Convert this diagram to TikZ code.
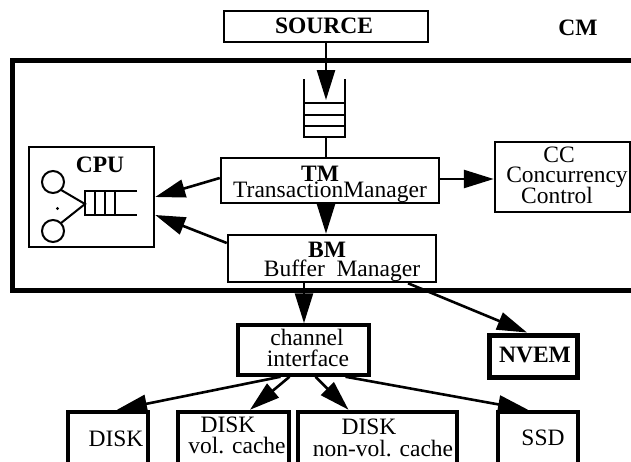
\documentclass[tikz,border=0pt]{standalone}
\usepackage{fontspec}
\setmainfont{Liberation Serif}
\usetikzlibrary{arrows.meta}
\begin{document}
\begin{tikzpicture}[x=1pt,y=-1pt,
  bx/.style 2 args={draw,line width=2.5pt,inner sep=0pt,minimum width=#1,minimum height=#2},
  thickbx/.style={line width=#1},
  lbl/.style={inner sep=0pt,anchor=base,font=\fontsize{23.5}{24}\selectfont},
  blbl/.style={inner sep=0pt,anchor=base,font=\fontsize{23.5}{24}\selectfont\bfseries},
  arr/.style={line width=2.6pt,-{Triangle[length=30pt,width=18pt]}},
  conn/.style={line width=2.5pt}]
\useasboundingbox (0,0) rectangle (631,461);
\clip (0,0) rectangle (631,461);

% outer CM frame (open to the right)
\draw[line width=5pt] (645,60) -- (12,60) -- (12,290) -- (645,290);

% boxes
\node[bx={204pt}{31pt}] (source) at (326,26.5) {};
\node[bx={218pt}{45pt}] (tm) at (330,180.5) {};
\node[bx={208pt}{47pt}] (bm) at (332,258.5) {};
\node[bx={125pt}{100pt}] (cpu) at (91.5,197) {};
\node[bx={135pt}{70pt}] (cc) at (562.5,177) {};
\node[bx={131pt}{50pt},thickbx=3.5pt] (ch) at (303.5,350) {};
\node[bx={88pt}{42pt},thickbx=5pt] (nvem) at (533,356) {};
\node[bx={80pt}{68pt},thickbx=4.5pt] (disk) at (108,446) {};
\node[bx={111pt}{68pt},thickbx=4.5pt] (vol) at (233.5,446) {};
\node[bx={159pt}{68pt},thickbx=4.5pt] (nonvol) at (377.5,446) {};
\node[bx={80pt}{68pt},thickbx=4.5pt] (ssd) at (538,446) {};

% input queue
\coordinate (qin) at (326,100);
\coordinate (qout) at (326,137);
\draw[conn] (304,79) -- (304,137) -- (345,137) -- (345,79);
\draw[conn] (304,103) -- (345,103);
\draw[conn] (304,115) -- (345,115);
\draw[conn] (304,126) -- (345,126);

% CPU internals
\draw[line width=2pt] (53,182) circle[radius=11];
\draw[line width=2pt] (53,231) circle[radius=11];
\fill (57.5,208.5) circle[radius=1.6];
\draw[line width=2pt] (60.8,189.8) -- (85,204) -- (60.8,223.2);
\draw[line width=2pt] (137,191) -- (85,191) -- (85,215) -- (137,215);
\draw[line width=2pt] (95,191) -- (95,215);
\draw[line width=2pt] (105,191) -- (105,215);
\draw[line width=2pt] (115,191) -- (115,215);

% connectors
\draw[arr] (source.south) -- (qin);
\draw[conn] (qout) -- (tm.north -| qout);
\draw[arr] ([yshift=2.5pt]tm.west) -- (cpu.east);
\draw[arr] ([yshift=15.5pt]bm.west) -- ([yshift=-18pt]cpu.east);
\draw[arr] ([xshift=-4pt]tm.south) -- ([xshift=-6pt]bm.north);
\draw[arr] ([yshift=1.5pt]tm.east) -- ([yshift=-2pt]cc.west);
\draw[arr] ([xshift=-28pt]bm.south) -- ([xshift=0.5pt]ch.north);
\draw[arr] ([xshift=76pt]bm.south) -- ([xshift=-6pt]nvem.north);
\draw[arr] ([xshift=-23pt]ch.south) -- ([xshift=9pt]disk.north);
\draw[arr] ([xshift=-14pt]ch.south) -- ([xshift=16.5pt]vol.north);
\draw[arr] ([xshift=12pt]ch.south) -- ([xshift=-29pt]nonvol.north);
\draw[arr] ([xshift=42pt]ch.south) -- ([xshift=-10pt]ssd.north);

% texts
\node[blbl] (tsource) at (324,33) {SOURCE};
\node[blbl] (tcm) at (578,35) {CM};
\node[blbl] (tcpu) at (100,172) {CPU};
\node[blbl] (ttm) at (320,181) {TM};
\node[lbl] (ttm2) at (330,197.5) {TransactionManager};
\node[blbl] (tbm) at (327,257) {BM};
\node[lbl] (tbm2) at (342,276.5) {Buffer~~Manager};
\node[lbl] (tcc) at (559,162) {CC};
\node[lbl] (tcc2) at (567,182) {Concurrency};
\node[lbl] (tcc3) at (557,203) {Control};
\node[lbl] (tch) at (307,345) {channel};
\node[lbl] (tch2) at (308,366) {interface};
\node[blbl] (tnv) at (535,362) {NVEM};
\node[lbl] (td1) at (116,446) {DISK};
\node[lbl] (td2) at (228,432) {DISK};
\node[lbl] (td2b) at (237,453) {vol. cache};
\node[lbl] (td3) at (369,434) {DISK};
\node[lbl] (td3b) at (383,456) {non-vol. cache};
\node[lbl] (tssd) at (543,445) {SSD};
\end{tikzpicture}
\end{document}
